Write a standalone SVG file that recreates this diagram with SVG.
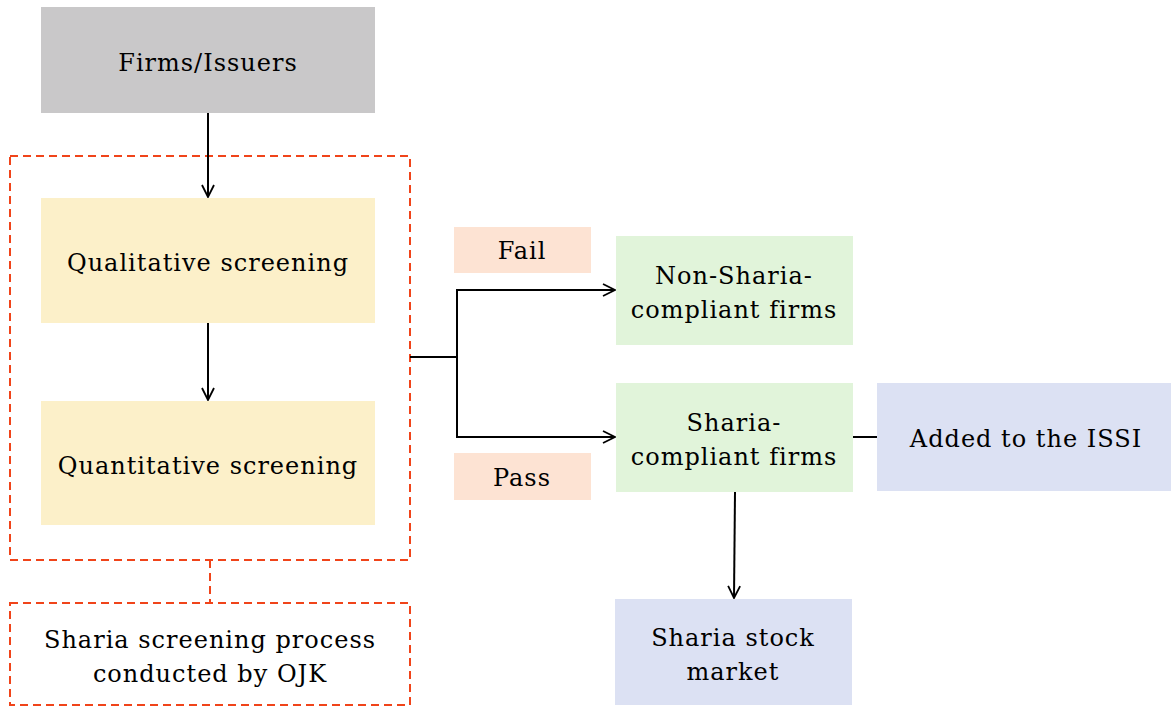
<svg xmlns="http://www.w3.org/2000/svg" width="1171" height="706" viewBox="0 0 1171 706">
<defs>
<style>
text{font-family:"DejaVu Serif","Liberation Serif",serif;font-size:24px;letter-spacing:1px;fill:#000;text-anchor:middle}
.dash{fill:none;stroke:#f0441a;stroke-width:2;stroke-dasharray:8,5}
.ln{fill:none;stroke:#000;stroke-width:2}
</style>
<marker id="ah" viewBox="0 0 14 14" refX="13" refY="7" markerWidth="14" markerHeight="14" markerUnits="userSpaceOnUse" orient="auto">
<path d="M1,1 L13,7 L1,13" fill="none" stroke="#000" stroke-width="1.8"/>
</marker>
</defs>
<rect width="1171" height="706" fill="#fff"/>
<g id="screening-process">
<rect class="dash" x="10" y="156" width="400" height="404"/>
</g>
<g id="firms">
<rect x="41" y="7" width="334" height="106" fill="#c9c8c9"/>
<text x="208" y="71">Firms/Issuers</text>
</g>
<g id="qualitative">
<rect x="41" y="198" width="334" height="125" fill="#fcf0c9"/>
<text x="208" y="271">Qualitative screening</text>
</g>
<g id="quantitative">
<rect x="41" y="401" width="334" height="124" fill="#fcf0c9"/>
<text x="208" y="474">Quantitative screening</text>
</g>
<g id="ojk-label">
<rect class="dash" x="10" y="603" width="400" height="102"/>
<text x="210" y="648">Sharia screening process</text>
<text x="210" y="682">conducted by OJK</text>
</g>
<g id="fail">
<rect x="454" y="227" width="137" height="46" fill="#fde3d3"/>
<text x="522" y="259">Fail</text>
</g>
<g id="pass">
<rect x="454" y="453" width="137" height="47" fill="#fde3d3"/>
<text x="522" y="486">Pass</text>
</g>
<g id="non-sharia">
<rect x="616" y="236" width="237" height="109" fill="#e1f4da"/>
<text x="734" y="284">Non-Sharia-</text>
<text x="734" y="318">compliant firms</text>
</g>
<g id="sharia">
<rect x="616" y="383" width="237" height="109" fill="#e1f4da"/>
<text x="734" y="431">Sharia-</text>
<text x="734" y="465">compliant firms</text>
</g>
<g id="issi">
<rect x="877" y="383" width="294" height="108" fill="#dce1f3"/>
<text x="1026" y="447">Added to the ISSI</text>
</g>
<g id="stock-market">
<rect x="615" y="599" width="237" height="106" fill="#dce1f3"/>
<text x="733" y="646">Sharia stock</text>
<text x="733" y="680">market</text>
</g>
<g id="connectors">
<line class="ln" x1="208" y1="113" x2="208" y2="197" marker-end="url(#ah)"/>
<line class="ln" x1="208" y1="323" x2="208" y2="400" marker-end="url(#ah)"/>
<line class="dash" x1="210" y1="560" x2="210" y2="603"/>
<polyline class="ln" points="410,357 457,357 457,290 615,290" marker-end="url(#ah)"/>
<polyline class="ln" points="457,357 457,437 615,437" marker-end="url(#ah)"/>
<line class="ln" x1="853" y1="437" x2="877" y2="437"/>
<line class="ln" x1="735" y1="492" x2="734" y2="598" marker-end="url(#ah)"/>
</g>
</svg>
